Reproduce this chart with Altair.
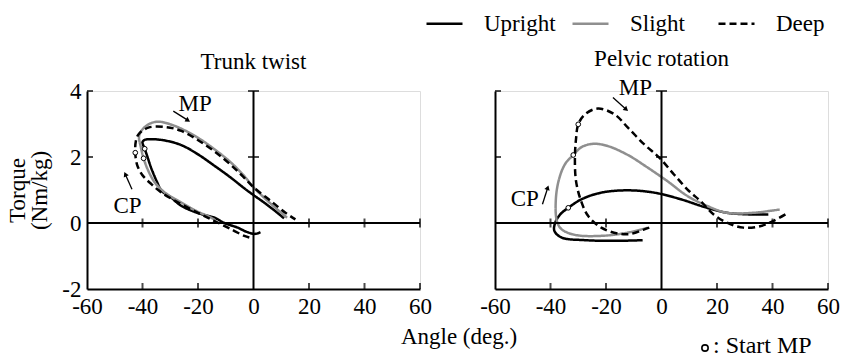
import altair as alt
import pandas as pd

FONT = "Liberation Serif"
FS = 23

SERIES = ["Upright", "Slight", "Deep"]
COLORS = ["#000000", "#8f8f8f", "#000000"]
DASHES = [[1, 0], [1, 0], [7, 4]]

X_TICKS = [-60, -40, -20, 0, 20, 40, 60]
Y_TICKS = [-2, 0, 2, 4]

# ---------------- Trunk twist ----------------
tt_up_x = [2.5, 0.5, -2.7, -5.7, -10.5, -14, -20, -26, -30.1, -33.1, -34.9, -36.8, -38.2, -39.2, -40.0, -39.2, -36.7, -31.9, -26, -20, -14, -8.1, -3.3, -0.4, 3.8, 8.6, 11]
tt_up_y = [-0.28, -0.33, -0.26, -0.14, 0.0, 0.16, 0.3, 0.52, 0.8, 0.97, 1.27, 1.65, 2.0, 2.25, 2.45, 2.52, 2.54, 2.5, 2.36, 2.08, 1.73, 1.37, 1.05, 0.87, 0.62, 0.31, 0.14]
tt_sl_x = [-14, -16.4, -20, -26, -31.9, -35.5, -37.9, -39.6, -40.6, -41.2, -39, -34.9, -28.3, -20, -14, -8.1, -3.3, -0.4, 3.8, 8.6, 12.1]
tt_sl_y = [0.1, 0.21, 0.34, 0.62, 0.92, 1.22, 1.58, 1.96, 2.3, 2.65, 2.92, 3.07, 2.94, 2.58, 2.23, 1.83, 1.42, 1.12, 0.77, 0.41, 0.16]
tt_dp_x = [-1.5, -3.3, -8.1, -14, -20, -27.1, -33.1, -36.7, -40.2, -42, -42.6, -42.4, -41.4, -37.9, -31.9, -26, -17.6, -10.5, -4.5, 0.2, 6.2, 11.5, 15.1]
tt_dp_y = [-0.44, -0.39, -0.19, 0.06, 0.31, 0.62, 0.92, 1.17, 1.47, 1.78, 2.13, 2.48, 2.69, 2.89, 2.91, 2.79, 2.38, 1.93, 1.47, 1.07, 0.67, 0.31, 0.11]
tt_start_x = [-39.2, -39.6, -42.6]
tt_start_y = [2.25, 1.96, 2.13]

# ---------------- Pelvic rotation ----------------
pr_up_x = [-6.8, -15.7, -27.6, -36, -38.6, -38.3, -36.5, -33.6, -28.8, -21.7, -12.1, -2.6, 6.9, 16.4, 23.6, 31.9, 38.5]
pr_up_y = [-0.52, -0.54, -0.52, -0.44, -0.24, 0.01, 0.26, 0.46, 0.72, 0.92, 0.99, 0.92, 0.72, 0.46, 0.31, 0.26, 0.26]
pr_sl_x = [-5, -12.1, -21.7, -31.2, -36, -37.7, -38.1, -37.1, -34.8, -31.8, -28.8, -24.6, -19.3, -12.1, -5, 2.1, 9.3, 16.4, 23.6, 33.1, 42.6]
pr_sl_y = [-0.14, -0.29, -0.39, -0.36, -0.19, 0.06, 0.67, 1.27, 1.78, 2.06, 2.30, 2.40, 2.33, 2.06, 1.68, 1.27, 0.82, 0.52, 0.31, 0.31, 0.41]
pr_dp_x = [-4.4, -6.4, -11, -15.7, -21.7, -26.4, -29, -30.8, -31.2, -30.8, -30, -27.6, -22.9, -16.9, -12.1, -6.2, -0.8, 4.5, 9.9, 14, 18.8, 23.6, 29.5, 35.5, 40.2, 45.6]
pr_dp_y = [-0.14, -0.2, -0.33, -0.32, -0.14, 0.21, 0.67, 1.27, 1.98, 2.55, 2.99, 3.29, 3.47, 3.29, 2.89, 2.38, 1.98, 1.47, 0.97, 0.67, 0.26, 0.01, -0.14, -0.1, 0.06, 0.31]
pr_start_x = [-33.6, -31.8, -30.0]
pr_start_y = [0.46, 2.06, 2.99]

# annotations: label, x, y ; arrows: start x,y -> end x,y, head angle
tt_note_lbl = ["MP", "CP"]
tt_note_x = [-21, -45.4]
tt_note_y = [3.6, 0.52]
tt_arrow_x0 = [-28.9, -43.8]
tt_arrow_y0 = [3.39, 1.02]
tt_arrow_x1 = [-23.6, -46.2]
tt_arrow_y1 = [3.11, 1.48]
tt_arrow_ang = [122, 336]

pr_note_lbl = ["MP", "CP"]
pr_note_x = [-9.4, -49.3]
pr_note_y = [4.1, 0.73]
pr_arrow_x0 = [-17.5, -42.9]
pr_arrow_y0 = [3.80, 0.57]
pr_arrow_x1 = [-12.7, -41.0]
pr_arrow_y1 = [3.44, 1.07]
pr_arrow_ang = [131, 18]

W, H = 333, 198


def curves_df(xs_list, ys_list):
    rows = []
    for s, xs, ys in zip(SERIES, xs_list, ys_list):
        for i, (x, y) in enumerate(zip(xs, ys)):
            rows.append({"x": x, "y": y, "series": s, "i": i})
    return pd.DataFrame(rows)


def panel(title, xs_list, ys_list, sx, sy, nl, nx, ny, ax0, ay0, ax1, ay1, ang, show_y, extra):
    xaxis = alt.Axis(values=X_TICKS, title=None, ticks=False, domain=True, domainColor="black",
                     domainWidth=2, labelFont=FONT, labelFontSize=FS, labelColor="black",
                     labelFlush=False, labelOverlap=False, labelPadding=6, grid=False,
                     labelExpr="'' + datum.value")
    if show_y:
        yaxis = alt.Axis(values=Y_TICKS, title=["Torque", "(Nm/kg)"], ticks=False, domain=True,
                         domainColor="black", domainWidth=2, labelFont=FONT, labelFontSize=FS,
                         labelColor="black", labelPadding=6, grid=False, titleFont=FONT,
                         titleFontSize=FS, titleFontWeight="normal", titleColor="black",
                         titleLineHeight=22, titlePadding=10, labelExpr="'' + datum.value")
    else:
        yaxis = alt.Axis(values=Y_TICKS, title=None, ticks=False, labels=False, domain=True,
                         domainColor="black", domainWidth=2, grid=False)
    X = alt.X("x:Q", scale=alt.Scale(domain=[-60, 60], nice=False), axis=xaxis)
    Y = alt.Y("y:Q", scale=alt.Scale(domain=[-2, 4], nice=False), axis=yaxis)

    leg = alt.Legend(orient="none", direction="horizontal", legendX=338, legendY=-87, title=None,
                     symbolType="stroke", symbolSize=1296, symbolStrokeWidth=2.5,
                     labelFont=FONT, labelFontSize=FS, labelColor="black", labelOffset=20,
                     columnPadding=11, gridAlign="all", padding=0)

    df = curves_df(xs_list, ys_list)
    lines = alt.Chart(df).mark_line(strokeWidth=2.5, interpolate="catmull-rom").encode(
        x=X, y=Y,
        color=alt.Color("series:N", scale=alt.Scale(domain=SERIES, range=COLORS), legend=leg),
        strokeDash=alt.StrokeDash("series:N", scale=alt.Scale(domain=SERIES, range=DASHES), legend=leg),
        detail="series:N",
        order="i:Q",
    )

    # axis cross lines
    hz = alt.Chart(pd.DataFrame({"x": [-60], "x2": [60], "y": [0]})).mark_rule(
        color="black", strokeWidth=2).encode(x=X, x2="x2:Q", y=Y)
    vt = alt.Chart(pd.DataFrame({"x": [0], "y": [-2], "y2": [4]})).mark_rule(
        color="black", strokeWidth=2).encode(x=X, y=Y, y2="y2:Q")

    # ticks
    zero_ticks = alt.Chart(pd.DataFrame({"x": [-40, -20, 20, 40, 60], "y": [0] * 5})).mark_tick(
        orient="vertical", size=9, thickness=2, color="black").encode(x=X, y=Y)
    vert_ticks = alt.Chart(pd.DataFrame({"x": [0, 0], "y": [2, 4]})).mark_tick(
        orient="horizontal", size=11, thickness=2, color="black").encode(x=X, y=Y)
    bot_ticks = alt.Chart(pd.DataFrame({"x": [-40, -20, 20, 40, 60], "y": [-2] * 5})).mark_tick(
        orient="vertical", size=6, thickness=2, color="black", yOffset=-3).encode(x=X, y=Y)
    left_ticks = alt.Chart(pd.DataFrame({"x": [-60, -60], "y": [2, 4]})).mark_tick(
        orient="horizontal", size=6, thickness=2, color="black", xOffset=3).encode(x=X, y=Y)

    starts = alt.Chart(pd.DataFrame({"x": sx, "y": sy})).mark_point(
        shape="circle", filled=True, fill="white", stroke="black", strokeWidth=1, size=22,
        opacity=1).encode(x=X, y=Y)

    notes = alt.Chart(pd.DataFrame({"x": nx, "y": ny, "t": nl})).mark_text(
        font=FONT, fontSize=FS, color="black", align="center", baseline="middle").encode(
        x=X, y=Y, text="t:N")

    arr_rows = []
    for k in range(len(ax0)):
        arr_rows.append({"x": ax0[k], "y": ay0[k], "k": k, "o": 0})
        arr_rows.append({"x": ax1[k], "y": ay1[k], "k": k, "o": 1})
    arr_lines = alt.Chart(pd.DataFrame(arr_rows)).mark_line(color="black", strokeWidth=1.3).encode(
        x=X, y=Y, detail="k:N", order="o:Q")
    heads = alt.Chart(pd.DataFrame({"x": ax1, "y": ay1, "a": ang})).mark_point(
        shape="triangle-up", filled=True, color="black", size=30, opacity=1).encode(
        x=X, y=Y, angle=alt.Angle("a:Q", scale=None))

    layers = [lines, hz, vt, zero_ticks, vert_ticks, bot_ticks, left_ticks, starts, notes,
              arr_lines, heads] + extra
    return alt.layer(*layers).properties(
        width=W, height=H,
        title=alt.TitleParams(title, font=FONT, fontSize=FS, fontWeight="normal", color="black",
                              offset=6, anchor="middle"),
    )


angle_title = alt.Chart(pd.DataFrame({"t": ["Angle (deg.)"]})).mark_text(
    font=FONT, fontSize=FS, color="black", align="center", baseline="alphabetic").encode(
    x=alt.value(372), y=alt.value(253), text="t:N")

start_mark = alt.Chart(pd.DataFrame({"t": ["o"]})).mark_point(
    shape="circle", filled=False, stroke="black", strokeWidth=1.6, size=40, opacity=1).encode(
    x=alt.value(210), y=alt.value(257))
start_text = alt.Chart(pd.DataFrame({"t": [": Start MP"]})).mark_text(
    font=FONT, fontSize=24, color="black", align="left", baseline="alphabetic").encode(
    x=alt.value(218), y=alt.value(262), text="t:N")

left = panel("Trunk twist", [tt_up_x, tt_sl_x, tt_dp_x], [tt_up_y, tt_sl_y, tt_dp_y],
             tt_start_x, tt_start_y, tt_note_lbl, tt_note_x, tt_note_y,
             tt_arrow_x0, tt_arrow_y0, tt_arrow_x1, tt_arrow_y1, tt_arrow_ang, True, [angle_title])
right = panel("Pelvic rotation", [pr_up_x, pr_sl_x, pr_dp_x], [pr_up_y, pr_sl_y, pr_dp_y],
              pr_start_x, pr_start_y, pr_note_lbl, pr_note_x, pr_note_y,
              pr_arrow_x0, pr_arrow_y0, pr_arrow_x1, pr_arrow_y1, pr_arrow_ang, False,
              [start_mark, start_text])

chart = alt.hconcat(left, right, spacing=75, bounds="flush").properties(
    padding={"left": 6, "top": 4, "right": 0, "bottom": 0}
).configure_view(stroke=None).configure(background="white")

chart.save("out.html", embed_options={"renderer": "svg", "actions": False})
